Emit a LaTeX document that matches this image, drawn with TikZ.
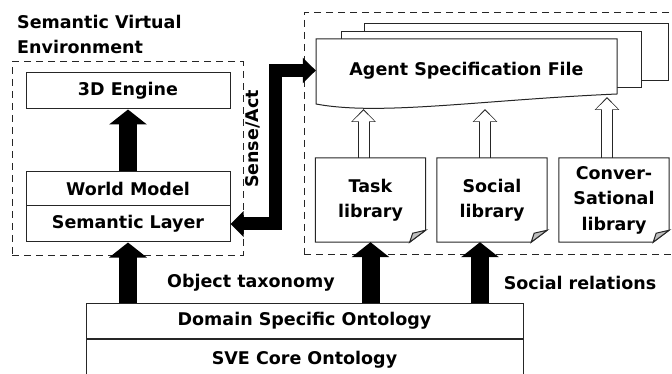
\documentclass[tikz,border=0pt]{standalone}
\usepackage{fontspec}
\setmainfont{DejaVu Sans}
\usetikzlibrary{arrows.meta}

% outline of a library page with a turned-down corner
\newcommand\libsheet[1]{%
  \draw[sheet] (#1.north west) -- (#1.north east) -- ([yshift=12pt]#1.south east)
    -- ([xshift=-16pt]#1.south east) -- (#1.south west) -- cycle;
  \filldraw[sheet, fill=black!25] ([yshift=12pt]#1.south east)
    -- ([shift={(-13pt,9pt)}]#1.south east) -- ([xshift=-16pt]#1.south east) -- cycle;}

\begin{document}
\begin{tikzpicture}[
  x=1pt, y=-1pt,
  font=\bfseries\fontsize{17.5}{25.5}\selectfont,
  box/.style={draw=black!85, line width=1pt, minimum width=204pt, minimum height=36pt, inner sep=0pt},
  frame/.style={draw=black!85, line width=1pt, dash pattern=on 7pt off 5pt},
  sheet/.style={draw=black!85, line width=1pt},
  lib/.style={minimum width=110pt, minimum height=84pt, inner sep=0pt, align=center},
  fatarrow/.style={line width=18pt, -{Triangle[length=15pt, width=37pt]}},
  senseact/.style={line width=13pt, {Triangle[length=13pt, width=25pt]}-{Triangle[length=13pt, width=25pt]}},
  hollow/.style={line width=12pt, draw=black!85, -{Triangle[length=13pt, width=24pt]},
    postaction={draw=white, line width=10pt, shorten >=1.5pt, -{Triangle[length=10.8pt, width=21pt]}}}
]
  \clip (0,0) rectangle (672,374);

  % virtual environment side
  \node[frame, minimum width=231pt, minimum height=193pt] (sve) at (127.5,158.5) {};
  \node[anchor=north west, inner sep=0pt, align=left] (title) at (17,15) {Semantic Virtual\\Environment};
  \node[box] (engine) at (128,91) {3D Engine};
  \node[box, minimum height=34pt] (world) at (128,189) {World Model};
  \node[box] (semlayer) at (128,224) {Semantic Layer};
  \draw[fatarrow] (world) -- (engine);

  % agent side
  \node[frame, minimum width=380pt, minimum height=241pt] (agents) at (494,133.5) {};
  \draw[sheet, fill=white] (364,24) rectangle (668,81);
  \draw[sheet, fill=white] (341,32) rectangle (641,88);
  \draw[sheet, fill=white] (316,39) -- (617,39) -- (617,94)
    .. controls (480,100) and (380,116) .. (316,104) -- cycle;
  \node[minimum width=301pt, minimum height=64pt] (spec) at (466.5,70.5) {Agent Specification File};

  \node[lib] (task) at (370.5,200) {Task\\library};
  \node[lib] (social) at (492,200) {Social\\library};
  \node[lib] (conv) at (614,200) {Conver-\\Sational\\library};

  \coordinate (toTask) at (363.5,109);
  \coordinate (toSocial) at (485,109);
  \coordinate (toConv) at (607,97);
  \draw[hollow] ([xshift=-7pt]task.north) -- (toTask);
  \draw[hollow] ([xshift=-7pt]social.north) -- (toSocial);
  \draw[hollow] ([xshift=-7pt]conv.north) -- (toConv);
  \libsheet{task}
  \libsheet{social}
  \libsheet{conv}

  \draw[senseact] (semlayer.east) -- ++(45,0) |- (spec.west);
  \node[rotate=90] (senselbl) at (253,139) {Sense/Act};

  % ontologies
  \node[box, minimum width=437pt, minimum height=35pt] (domain) at (304.5,320.5) {Domain Specific Ontology};
  \node[box, minimum width=437pt, minimum height=42pt, anchor=north] (core) at (domain.south) {SVE Core Ontology};
  \draw[fatarrow] (domain.north -| semlayer.south) -- (semlayer.south);
  \draw[fatarrow] (domain.north -| task.south) -- (task.south);
  \draw[fatarrow] ([xshift=-12pt]social.south |- domain.north) -- ([xshift=-12pt]social.south);
  \node (taxonomy) at (251,283) {Object taxonomy};
  \node (relations) at (580,283) {Social relations};
\end{tikzpicture}
\end{document}
